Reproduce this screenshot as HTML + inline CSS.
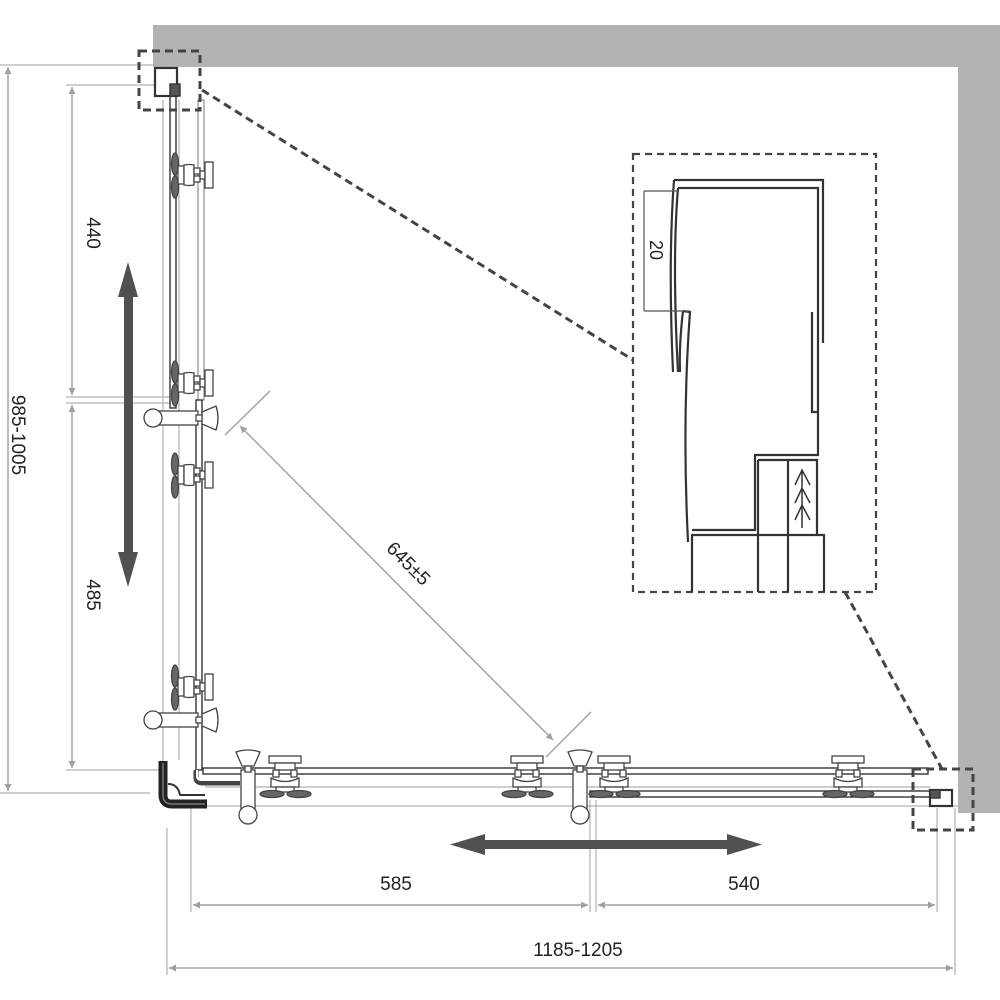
<!DOCTYPE html>
<html><head><style>html,body{margin:0;padding:0;background:#fff}svg{display:block}</style></head>
<body>
<svg width="1000" height="1000" viewBox="0 0 1000 1000" xmlns="http://www.w3.org/2000/svg" font-family="Liberation Sans, sans-serif">
<defs>
<marker id="ag" viewBox="0 0 10 10" refX="10" refY="5" markerWidth="12" markerHeight="7" orient="auto-start-reverse" markerUnits="userSpaceOnUse"><path d="M0,0 L10,5 L0,10 z" fill="#a0a0a0"/></marker>
<g id="rv" stroke="#444" stroke-width="1.3" fill="#fff">
<ellipse cx="0" cy="-11" rx="3.5" ry="11" fill="#666"/>
<ellipse cx="0" cy="12" rx="3.5" ry="11" fill="#666"/>
<rect x="3" y="-9" width="6" height="18"/>
<path d="M9,-10 Q15,-11 19,-10 L19,10 Q15,11 9,10 z"/>
<rect x="19" y="-7" width="6" height="6"/><rect x="19" y="1" width="6" height="6"/>
<rect x="25" y="-4" width="5" height="8"/>
<rect x="30" y="-13" width="8" height="26"/>
</g>
<g id="rh" stroke="#444" stroke-width="1.3" fill="#fff">
<rect x="-16" y="-16" width="32" height="7"/>
<rect x="-10" y="-9" width="20" height="7"/>
<rect x="-12" y="-2" width="6" height="7"/><rect x="6" y="-2" width="6" height="7"/>
<path d="M-14,6 Q0,13 14,6 L14,15 L-14,15 z"/>
<rect x="-9" y="15" width="18" height="5"/>
<ellipse cx="-13" cy="22" rx="12" ry="3.5" fill="#666"/>
<ellipse cx="14" cy="22" rx="12" ry="3.5" fill="#666"/>
</g>
<g id="hv" stroke="#444" stroke-width="1.3" fill="#fff">
<rect x="-45" y="-7" width="45" height="14"/>
<circle cx="-45" cy="0" r="9"/>
<path d="M4,-6 L18,-12 Q22,0 18,12 L4,6 z"/>
<rect x="-2" y="-3" width="6" height="6"/>
</g>
<g id="hh" stroke="#444" stroke-width="1.3" fill="#fff">
<rect x="-7" y="0" width="14" height="45"/>
<circle cx="0" cy="45" r="9"/>
<path d="M-6,-4 L-12,-18 Q0,-22 12,-18 L6,-4 z"/>
<rect x="-3" y="-4" width="6" height="6"/>
</g>
</defs>

<rect x="153" y="25" width="847" height="42" fill="#b3b3b3"/>
<rect x="958" y="25" width="42" height="788" fill="#b3b3b3"/>

<g stroke="#b0b0b0" stroke-width="1.2" fill="none">
<line x1="163" y1="100" x2="163" y2="770"/>
<line x1="179" y1="100" x2="179" y2="760"/>
<line x1="0" y1="65" x2="160" y2="65"/>
<line x1="66" y1="85" x2="168" y2="85"/>
<line x1="66" y1="397" x2="175" y2="397"/>
<line x1="66" y1="403" x2="175" y2="403"/>
<line x1="66" y1="770" x2="160" y2="770"/>
<line x1="0" y1="793" x2="150" y2="793"/>
<line x1="205" y1="787" x2="930" y2="787"/>
<line x1="205" y1="806" x2="960" y2="806"/>
<line x1="167" y1="828" x2="167" y2="975"/>
<line x1="191" y1="808" x2="191" y2="912"/>
<line x1="590" y1="800" x2="590" y2="912"/>
<line x1="596" y1="800" x2="596" y2="912"/>
<line x1="937" y1="808" x2="937" y2="912"/>
<line x1="955" y1="808" x2="955" y2="975"/>
</g>

<g stroke="#a0a0a0" stroke-width="1.4" fill="none">
<line x1="8" y1="67" x2="8" y2="791" marker-start="url(#ag)" marker-end="url(#ag)"/>
<line x1="72" y1="87" x2="72" y2="395" marker-start="url(#ag)" marker-end="url(#ag)"/>
<line x1="72" y1="405" x2="72" y2="768" marker-start="url(#ag)" marker-end="url(#ag)"/>
<line x1="193" y1="905" x2="588" y2="905" marker-start="url(#ag)" marker-end="url(#ag)"/>
<line x1="598" y1="905" x2="935" y2="905" marker-start="url(#ag)" marker-end="url(#ag)"/>
<line x1="169" y1="968" x2="953" y2="968" marker-start="url(#ag)" marker-end="url(#ag)"/>
<line x1="240" y1="426" x2="553" y2="740" marker-start="url(#ag)" marker-end="url(#ag)"/>
<line x1="225" y1="435" x2="270" y2="391"/>
<line x1="546" y1="757" x2="591" y2="712"/>
</g>

<g font-size="19" fill="#222">
<text transform="translate(12,435) rotate(90)" text-anchor="middle">985-1005</text>
<text transform="translate(87,233) rotate(90)" text-anchor="middle">440</text>
<text transform="translate(87,595) rotate(90)" text-anchor="middle">485</text>
<text x="396" y="890" text-anchor="middle">585</text>
<text x="744" y="890" text-anchor="middle">540</text>
<text x="578" y="956" text-anchor="middle">1185-1205</text>
<text transform="translate(404,568) rotate(45)" text-anchor="middle">645±5</text>
</g>

<g fill="#505050">
<rect x="124" y="292" width="9" height="262"/>
<path d="M128,262 L138,297 L118,297 z"/>
<path d="M128,587 L138,552 L118,552 z"/>
<rect x="480" y="840" width="250" height="9"/>
<path d="M450,844.5 L485,834 L485,855 z"/>
<path d="M762,844.5 L727,834 L727,855 z"/>
</g>

<g stroke="#333" stroke-width="1.4" fill="#fff">
<rect x="170" y="88" width="6" height="320"/>
<rect x="155" y="68" width="22" height="28" stroke-width="2.2"/>
<rect x="170" y="84" width="10" height="12" fill="#555"/>
<rect x="198" y="100" width="6" height="300" stroke="#777" stroke-width="1"/>
<rect x="196" y="400" width="6" height="370"/>
<path d="M196,770 L196,778 Q196,783 203,783 L240,783" fill="none" stroke-width="5" stroke="#444"/>
<path d="M197,770 L197,776 Q197,780 202,780 L240,780" fill="none" stroke-width="2" stroke="#fff"/>
<rect x="203" y="768" width="725" height="6"/>
<rect x="590" y="791" width="340" height="6"/>
<rect x="930" y="790" width="22" height="16" stroke-width="2.2"/>
<rect x="930" y="790" width="10" height="8" fill="#555"/>
</g>

<g fill="none" stroke-linejoin="round">
<path d="M163,761 L163,795 Q163,804 172,804 L207,804" stroke="#222" stroke-width="9"/>
<path d="M163,763 L163,795 Q163,804 172,804 L205,804" stroke="#777" stroke-width="1.5"/>
<path d="M168,784 Q178,784 180,795 L205,795" stroke="#333" stroke-width="2"/>
</g>

<use href="#rv" x="175" y="175"/>
<use href="#rv" x="175" y="383"/>
<use href="#rv" x="175" y="475"/>
<use href="#rv" x="175" y="687"/>
<use href="#rh" x="285" y="772"/>
<use href="#rh" x="527" y="772"/>
<use href="#rh" x="614" y="772"/>
<use href="#rh" x="848" y="772"/>
<use href="#hv" x="198" y="418"/>
<use href="#hv" x="198" y="720"/>
<use href="#hh" x="248" y="770"/>
<use href="#hh" x="580" y="770"/>

<g stroke="#444" stroke-width="3" stroke-dasharray="8,5" fill="none">
<rect x="139" y="51" width="61" height="59"/>
<rect x="913" y="769" width="60" height="61"/>
<rect x="633" y="154" width="243" height="438" stroke-width="2.2" stroke-dasharray="7,5"/>
<line x1="202" y1="90" x2="633" y2="360"/>
<line x1="845" y1="592" x2="942" y2="769"/>
</g>

<g stroke="#333" stroke-width="2.2" fill="none">
<path d="M674,180 L823,180 L823,343"/>
<path d="M678,188 L818,188 L818,455 L755,455 L755,530 L692,530"/>
<path d="M674,180 Q668,260 673,372"/>
<path d="M678,188 Q672,260 678,372"/>
<path d="M683,311 L690,312 Q682,420 688,542"/>
<path d="M683,311 Q679,345 680,372"/>
<path d="M812,312 L812,412 L818,412"/>
<path d="M758,460 L817,460 L817,535"/>
<line x1="788" y1="460" x2="788" y2="535"/>
<line x1="758" y1="460" x2="758" y2="535"/>
<path d="M691,535 L824,535 L824,592"/>
<line x1="692" y1="535" x2="692" y2="592"/>
<line x1="758" y1="535" x2="758" y2="592"/>
<line x1="788" y1="535" x2="788" y2="592"/>
<path d="M795,485 L802,470 L810,485 M795,503 L802,488 L810,503 M795,520 L802,505 L810,520 M802,470 L802,528" stroke-width="1.5"/>
</g>
<g stroke="#555" stroke-width="1.2">
<line x1="644" y1="191" x2="644" y2="311"/>
<line x1="644" y1="191" x2="678" y2="191"/>
<line x1="644" y1="311" x2="690" y2="311"/>
</g>
<text transform="translate(650,250) rotate(90)" font-size="18" fill="#222" text-anchor="middle">20</text>
</svg>
</body></html>
